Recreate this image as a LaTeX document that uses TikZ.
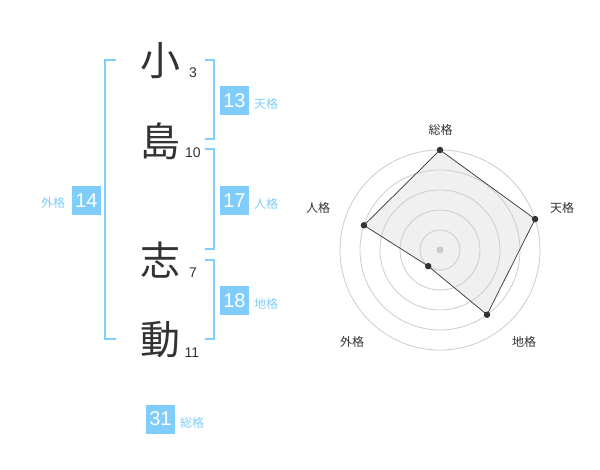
\documentclass[tikz,border=0pt]{standalone}
\usepackage{fontspec}
\setmainfont{Liberation Sans}
\newfontfamily\jpfont{Noto Sans CJK JP}
\definecolor{seiblue}{RGB}{128,204,250}
\definecolor{inkgray}{RGB}{51,51,51}
\tikzset{
x=1pt, y=-1pt, % one unit is one pixel, y runs downwards
bracket/.style={seiblue, line width=2pt}, % the blue brackets
kanji/.style={inkgray, font=\jpfont\fontsize{40}{42}\selectfont}, % the name
strokes/.style={inkgray, font=\fontsize{14}{16}\selectfont}, % stroke counts
numbox/.style={fill=seiblue, text=white, minimum size=29pt, inner sep=0pt, font=\fontsize{20}{22}\selectfont},
kakutext/.style={seiblue, font=\jpfont\fontsize{12}{14}\selectfont}, % text beside a box
ring/.style={black!20, line width=0.8pt}, % rings of the radar
dot/.style={circle, fill=inkgray, inner sep=0pt, minimum size=6.5pt},
axislabel/.style={inkgray, font=\jpfont\fontsize{12}{14}\selectfont},
}

\begin{document}
\begin{tikzpicture}
    \useasboundingbox (0,0) rectangle (600,470);
    % the name, one character per row
    \node[kanji] (k1) at (160,61) {小};
    \node[kanji] (k2) at (160,141) {島};
    \node[kanji] (k3) at (160,260) {志};
    \node[kanji] (k4) at (160,340) {動};
    \node[strokes] (s1) at (193,73) {3};
    \node[strokes] (s2) at (193,153) {10};
    \node[strokes] (s3) at (193,273) {7};
    \node[strokes] (s4) at (192,353) {11};
    % brackets
    \draw[bracket] (116,60) -- (105,60) -- (105,339) -- (116,339);
    \draw[bracket] (205,60) -- (214,60) -- (214,139) -- (205,139);
    \draw[bracket] (205,149) -- (214,149) -- (214,249) -- (205,249);
    \draw[bracket] (205,260) -- (214,260) -- (214,339) -- (205,339);
    % the five sums
    \node[numbox] (ten) at (234.5,100.5) {13};
    \node[kakutext] at (266,104) {天格};
    \node[numbox] (jin) at (234.5,200.5) {17};
    \node[kakutext] at (266,204) {人格};
    \node[numbox] (chi) at (234.5,300.5) {18};
    \node[kakutext] at (266,304) {地格};
    \node[numbox] (gai) at (86.5,200.5) {14};
    \node[kakutext] at (53,203) {外格};
    \node[numbox] (sou) at (160.5,419) {31};
    \node[kakutext] at (192,423) {総格};
    % radar chart
    \coordinate (c) at (440,250);
    \path (c) ++(-90:100) coordinate (pSou)
          (c) ++(-18:100) coordinate (pTen)
          (c) ++(54:80) coordinate (pChi)
          (c) ++(126:20) coordinate (pGai)
          (c) ++(198:80) coordinate (pJin);
    \fill[black!6] (pSou) -- (pTen) -- (pChi) -- (pGai) -- (pJin) -- cycle;
    \foreach \r in {20,40,60,80,100}
        \draw[ring] (c) circle[radius=\r];
    \draw[inkgray, line width=0.7pt]
        (pSou) -- (pTen) -- (pChi) -- (pGai) -- (pJin) -- cycle;
    \fill[black!20] (c) circle[radius=3.5];
    \foreach \p in {pSou,pTen,pChi,pGai,pJin}
        \node[dot] at (\p) {};
    \node[axislabel] (lSou) at (440.5,130) {総格};
    \node[axislabel] (lTen) at (562,208) {天格};
    \node[axislabel] (lChi) at (524,342) {地格};
    \node[axislabel] (lGai) at (352,342) {外格};
    \node[axislabel] (lJin) at (318,208) {人格};
\end{tikzpicture}
\end{document}
